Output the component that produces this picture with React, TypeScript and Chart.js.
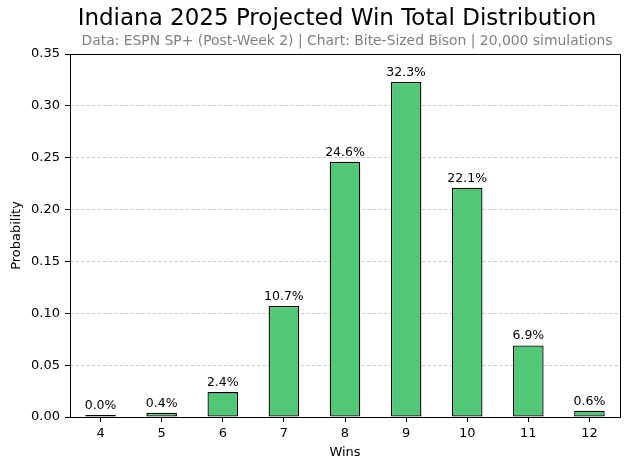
import React, { useEffect, useRef } from "react";
import { Chart, registerables, Plugin } from "chart.js";

Chart.register(...registerables);

const wins = ["4", "5", "6", "7", "8", "9", "10", "11", "12"];
const probability = [0.0004, 0.004, 0.024, 0.107, 0.246, 0.323, 0.221, 0.069, 0.006];
const pctLabels = ["0.0%", "0.4%", "2.4%", "10.7%", "24.6%", "32.3%", "22.1%", "6.9%", "0.6%"];

const titleText = "Indiana 2025 Projected Win Total Distribution";
const subtitleText = "Data: ESPN SP+ (Post-Week 2) | Chart: Bite-Sized Bison | 20,000 simulations";

const FONT = "'DejaVu Sans', sans-serif";

// titles, frame and bar labels drawn by hand to get the matplotlib look
const extras: Plugin<"bar"> = {
  id: "extras",
  afterDatasetsDraw(chart) {
    const { ctx, chartArea } = chart;
    const meta = chart.getDatasetMeta(0);
    ctx.save();
    ctx.fillStyle = "#000";
    ctx.font = `12.5px ${FONT}`;
    ctx.textAlign = "center";
    ctx.textBaseline = "bottom";
    meta.data.forEach((bar: any, i) => {
      ctx.fillText(pctLabels[i], bar.x, bar.y - 3);
    });
    ctx.strokeStyle = "#000";
    ctx.lineWidth = 1;
    ctx.strokeRect(
      Math.round(chartArea.left) + 0.5,
      Math.round(chartArea.top) + 0.5,
      Math.round(chartArea.right - chartArea.left),
      Math.round(chartArea.bottom - chartArea.top)
    );
    ctx.restore();
  },
  afterDraw(chart) {
    const { ctx } = chart;
    ctx.save();
    ctx.textAlign = "center";
    ctx.textBaseline = "middle";
    ctx.fillStyle = "#000";
    ctx.font = `23px ${FONT}`;
    ctx.fillText(titleText, 337, 19);
    ctx.fillStyle = "#808080";
    ctx.font = `13.9px ${FONT}`;
    ctx.fillText(subtitleText, 347, 41);
    ctx.restore();
  },
};

const App: React.FC = () => {
  const canvasRef = useRef<HTMLCanvasElement | null>(null);

  useEffect(() => {
    const canvas = canvasRef.current;
    if (!canvas) return;
    const chart = new Chart(canvas, {
      type: "bar",
      data: {
        labels: wins,
        datasets: [
          {
            data: probability,
            backgroundColor: "#50C878",
            borderColor: "#000",
            borderWidth: 1.3,
            borderSkipped: false,
            minBarLength: 2,
            barPercentage: 0.5,
            categoryPercentage: 1,
          },
        ],
      },
      options: {
        responsive: false,
        animation: false,
        layout: { padding: { top: 54, right: 10, left: 0, bottom: 0 } },
        plugins: {
          legend: { display: false },
          tooltip: { enabled: false },
        },
        scales: {
          x: {
            afterFit: (scale) => {
              scale.height = 53;
            },
            border: { display: false },
            grid: {
              offset: false,
              drawOnChartArea: false,
              drawTicks: true,
              tickLength: 5,
              tickColor: "#000",
            },
            ticks: { color: "#000", padding: 4, font: { family: FONT, size: 13 } },
            title: {
              display: true,
              text: "Wins",
              color: "#000",
              font: { family: FONT, size: 13 },
              padding: { top: 0, bottom: 10 },
            },
          },
          y: {
            min: 0,
            max: 0.35,
            afterFit: (scale) => {
              scale.width = 70;
            },
            border: { display: false, dash: [3.5, 2] },
            grid: {
              color: "rgba(190,190,190,0.75)",
              tickBorderDash: [],
              tickColor: "#000",
              tickLength: 5,
            },
            ticks: {
              stepSize: 0.05,
              color: "#000",
              padding: 5,
              font: { family: FONT, size: 13 },
              callback: (v) => Number(v).toFixed(2),
            },
            title: {
              display: true,
              text: "Probability",
              color: "#000",
              font: { family: FONT, size: 13 },
              padding: { top: 9, bottom: 0 },
            },
          },
        },
      },
      plugins: [extras],
    });
    return () => chart.destroy();
  }, []);

  return (
    <div style={{ position: "absolute", left: 0, top: 0, width: 630, height: 470, background: "#fff" }}>
      <canvas ref={canvasRef} width={630} height={470} />
    </div>
  );
};

export default App;
